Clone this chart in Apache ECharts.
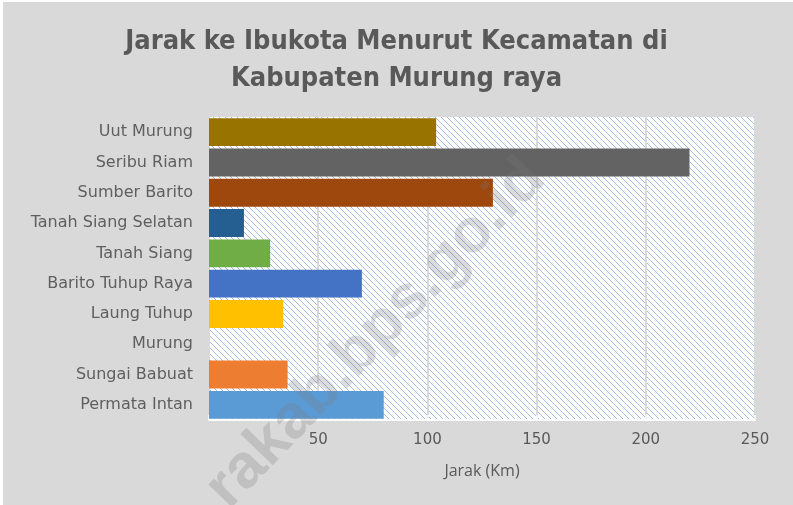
<!DOCTYPE html>
<html>
<head>
    <meta charset="utf-8">
    <title>Jarak ke Ibukota</title>
    <style>
        html, body { margin: 0; padding: 0; background: #ffffff; }
        #main { width: 793px; height: 505px; }
    </style>
</head>
<body>
    <div id="main"></div>
    <script src="https://cdn.jsdelivr.net/npm/echarts@6/dist/echarts.min.js"></script>
    <script>
        // data (bottom to top, as drawn by the category axis)
        var kecamatan = ['Permata Intan', 'Sungai Babuat', 'Murung', 'Laung Tuhup', 'Barito Tuhup Raya',
            'Tanah Siang', 'Tanah Siang Selatan', 'Sumber Barito', 'Seribu Riam', 'Uut Murung'];
        var jarak = [80, 36, 0, 34, 70, 28, 16, 130, 220, 104];
        var warna = ['#5b9bd5', '#ed7d31', '#a5a5a5', '#ffc000', '#4472c4',
            '#70ad47', '#255e91', '#9e480e', '#636363', '#997300'];
        var xTicks = [50, 100, 150, 200, 250];

        // hatch pattern for the plot area
        var pat = document.createElement('canvas');
        pat.width = 6; pat.height = 6;
        var ctx = pat.getContext('2d');
        ctx.fillStyle = '#ffffff';
        ctx.fillRect(0, 0, 6, 6);
        ctx.strokeStyle = '#a4bae4';
        ctx.lineWidth = 1;
        ctx.beginPath();
        ctx.moveTo(-1, -1); ctx.lineTo(7, 7);
        ctx.moveTo(-4, 2); ctx.lineTo(4, 10);
        ctx.moveTo(2, -4); ctx.lineTo(10, 4);
        ctx.stroke();

        var chart = echarts.init(document.getElementById('main'));
        var option = {
            backgroundColor: '#d9d9d9',
            animation: false,
            title: {
                text: 'Jarak ke Ibukota Menurut Kecamatan di\nKabupaten Murung raya',
                left: 'center',
                top: 18,
                textStyle: {
                    fontFamily: 'DejaVu Sans Condensed',
                    fontWeight: 'bold',
                    fontSize: 27,
                    lineHeight: 37,
                    color: '#595959'
                }
            },
            grid: {
                left: 209,
                right: 38,
                top: 117,
                bottom: 85,
                show: true,
                borderWidth: 0,
                backgroundColor: { image: pat, repeat: 'repeat' }
            },
            xAxis: {
                type: 'value',
                min: 0,
                max: 250,
                interval: 50,
                name: 'Jarak (Km)',
                nameLocation: 'middle',
                nameGap: 43,
                nameTextStyle: { fontFamily: 'Open Sans', fontSize: 16, color: '#595959' },
                axisLine: { show: true, lineStyle: { color: '#ffffff', width: 2 } },
                axisTick: { show: true, length: -5, lineStyle: { color: '#ffffff', width: 1.5 } },
                splitLine: { show: true, lineStyle: { color: '#d9d9d9', width: 2 } },
                axisLabel: {
                    margin: 13,
                    fontFamily: 'DejaVu Sans',
                    fontSize: 15,
                    color: '#595959',
                    formatter: function (v) { return xTicks.indexOf(v) >= 0 ? String(v) : ''; }
                }
            },
            yAxis: {
                type: 'category',
                data: kecamatan,
                axisLine: { show: false },
                axisTick: { show: false },
                axisLabel: {
                    margin: 16,
                    fontFamily: 'DejaVu Sans',
                    fontSize: 16,
                    color: '#5f5f5f'
                }
            },
            graphic: [{
                type: 'rect',
                shape: { x: 0, y: 0, width: 3, height: 505 },
                style: { fill: '#ffffff' },
                silent: true
            }, {
                type: 'rect',
                shape: { x: 0, y: 0, width: 793, height: 2 },
                style: { fill: '#ffffff' },
                silent: true
            }, {
                type: 'text',
                x: 239,
                y: 520,
                rotation: Math.PI * 46 / 180,
                z: 100,
                silent: true,
                style: {
                    text: 'rakab.bps.go.id',
                    textAlign: 'left',
                    textVerticalAlign: 'bottom',
                    fontFamily: 'Liberation Sans',
                    fontWeight: 'bold',
                    fontSize: 62,
                    fill: 'rgba(120,120,120,0.26)'
                }
            }],
            series: [{
                type: 'bar',
                data: jarak.map(function (v, i) {
                    return { value: v, itemStyle: { color: warna[i] } };
                }),
                barCategoryGap: '8%'
            }]
        };
        chart.setOption(option);
    </script>
</body>
</html>
